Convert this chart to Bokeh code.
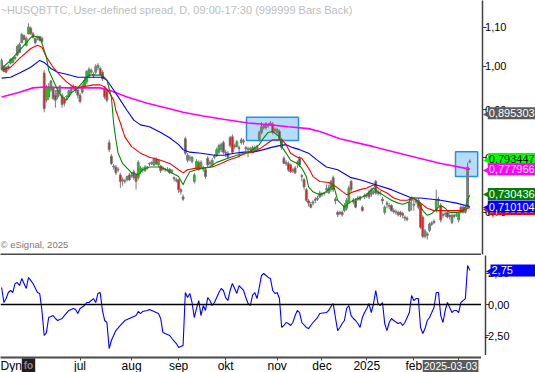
from bokeh.plotting import figure
from bokeh.layouts import column, row
from bokeh.models import (Range1d, FixedTicker, CustomJSTickFormatter, Label, Span,
                          ColumnDataSource)
from bokeh.core.properties import value
from bokeh.embed import file_html
from bokeh.resources import INLINE

# ---------------- data (daily bars, index 0 = first visible bar) ----------------
opens = [
    .993, 1.000, .998, 1.000, 1.008, 1.010, 1.020, 1.028, 1.035, 1.060,
    1.078, 1.053, 1.083, 1.098, 1.083, 1.071, 1.073, 1.076, 1.071, .984,
    .921, .928, .944, .949, .932, .928, .939, .932, .923, .928,
    .930, .939, .951, .951, .944, .932, .939, .953, .963, .977,
    .986, .981, .986, .998, .995, .986, .949, .942, .830, .803,
    .782, .782, .778, .767, .756, .755, .758, .767, .766, .773,
    .767, .762, .773, .777, .775, .780, .788, .789, .786, .797,
    .786, .784, .780, .777, .778, .778, .775, .762, .758, .758,
    .740, .727, .838, .795, .799, .793, .755, .780, .791, .782,
    .780, .777, .799, .789, .786, .801, .805, .811, .816, .830,
    .811, .809, .840, .842, .824, .822, .820, .830, .832, .820,
    .816, .816, .811, .816, .818, .836, .851, .861, .861, .865,
    .869, .869, .857, .851, .853, .836, .799, .791, .789, .786,
    .777, .780, .791, .799, .766, .758, .740, .720, .714, .716,
    .723, .725, .727, .731, .733, .740, .734, .740, .762, .723,
    .700, .700, .700, .703, .707, .718, .755, .721, .721, .725,
    .727, .709, .729, .731, .736, .731, .734, .755, .736, .734,
    .723, .700, .716, .712, .712, .703, .701, .700, .700, .698,
    .692, .690, .703, .721, .712, .718, .721, .714, .692, .660,
    .664, .670, .680, .685, .703, .721, .712, .696, .696, .700,
    .695, .683, .695, .695, .687, .709, .709, .700, .709, .792,
]
highs = [
    1.020, 1.003, 1.000, 1.005, 1.020, 1.023, 1.025, 1.055, 1.060, 1.086,
    1.081, 1.076, 1.111, 1.103, 1.088, 1.073, 1.078, 1.078, 1.076, .991,
    .956, .960, .967, .953, .944, .949, .956, .937, .928, .932,
    .944, .953, .958, .953, .949, .937, .958, .972, .991, .998,
    .995, .986, 1.005, 1.008, 1.000, .991, .953, .946, .836, .807,
    .788, .786, .782, .771, .762, .760, .766, .771, .771, .777,
    .771, .795, .784, .782, .786, .784, .791, .793, .801, .801,
    .797, .786, .784, .780, .782, .780, .778, .764, .762, .760,
    .743, .731, .842, .809, .805, .803, .771, .797, .795, .795,
    .784, .780, .803, .795, .799, .807, .820, .828, .830, .834,
    .816, .813, .844, .847, .828, .836, .824, .840, .838, .824,
    .822, .822, .824, .824, .826, .855, .873, .869, .873, .871,
    .875, .873, .861, .861, .857, .840, .803, .795, .793, .789,
    .780, .784, .795, .803, .769, .762, .743, .723, .718, .721,
    .727, .729, .738, .736, .736, .749, .749, .758, .766, .727,
    .703, .703, .703, .716, .725, .747, .758, .725, .725, .729,
    .729, .712, .733, .734, .740, .743, .740, .758, .740, .738,
    .727, .712, .720, .716, .714, .707, .705, .703, .703, .701,
    .695, .693, .725, .727, .725, .723, .725, .718, .695, .672,
    .667, .683, .685, .688, .740, .727, .716, .700, .701, .703,
    .698, .698, .698, .700, .701, .712, .712, .712, .791, .797,
]
lows = [
    .991, .986, .984, .991, 1.005, 1.008, 1.015, 1.025, 1.033, 1.058,
    1.066, 1.050, 1.081, 1.081, 1.071, 1.055, 1.066, 1.063, 1.058, .894,
    .916, .921, .939, .921, .904, .923, .930, .904, .907, .921,
    .928, .935, .944, .937, .925, .914, .935, .949, .958, .972,
    .981, .972, .981, .991, .977, .965, .923, .916, .811, .786,
    .777, .767, .773, .743, .747, .751, .755, .756, .762, .758,
    .740, .758, .769, .771, .773, .777, .784, .786, .784, .786,
    .782, .771, .775, .773, .773, .769, .769, .755, .753, .734,
    .731, .720, .805, .791, .793, .789, .751, .777, .775, .778,
    .773, .760, .782, .784, .782, .797, .801, .807, .811, .807,
    .801, .799, .820, .807, .818, .820, .801, .826, .826, .811,
    .801, .811, .809, .811, .813, .832, .847, .857, .857, .861,
    .865, .847, .851, .847, .834, .816, .788, .784, .773, .771,
    .771, .769, .780, .782, .755, .740, .718, .710, .707, .712,
    .716, .720, .725, .727, .729, .734, .733, .736, .736, .714,
    .692, .695, .693, .700, .703, .714, .736, .714, .707, .720,
    .720, .701, .723, .725, .723, .727, .731, .731, .729, .729,
    .714, .696, .707, .705, .701, .698, .696, .693, .692, .690,
    .685, .685, .701, .703, .703, .714, .705, .672, .657, .657,
    .655, .667, .677, .680, .700, .710, .683, .690, .692, .690,
    .688, .680, .690, .692, .683, .698, .698, .698, .707, .789,
]
closes = [
    1.015, .988, .986, .995, 1.018, 1.020, 1.023, 1.050, 1.055, 1.081,
    1.068, 1.071, 1.101, 1.083, 1.073, 1.060, 1.076, 1.066, 1.063, .902,
    .949, .949, .965, .925, .921, .944, .953, .911, .914, .930,
    .942, .949, .953, .942, .932, .918, .953, .967, .988, .993,
    .991, .979, 1.000, 1.003, .981, .970, .928, .921, .816, .789,
    .784, .771, .777, .755, .758, .756, .764, .758, .767, .762,
    .755, .791, .780, .778, .782, .782, .789, .791, .797, .788,
    .795, .775, .778, .778, .777, .771, .773, .760, .756, .740,
    .736, .723, .809, .805, .801, .801, .767, .793, .778, .791,
    .778, .764, .786, .791, .795, .803, .816, .824, .826, .811,
    .809, .801, .824, .811, .822, .832, .818, .836, .834, .818,
    .818, .818, .820, .820, .822, .851, .863, .865, .869, .867,
    .871, .851, .855, .857, .838, .820, .789, .789, .777, .773,
    .775, .771, .789, .786, .764, .745, .721, .716, .709, .718,
    .721, .723, .734, .733, .734, .742, .743, .755, .740, .720,
    .696, .698, .696, .712, .721, .743, .740, .718, .709, .723,
    .723, .703, .727, .729, .727, .740, .736, .734, .733, .733,
    .720, .709, .714, .710, .703, .701, .700, .696, .696, .695,
    .690, .688, .718, .723, .714, .720, .709, .675, .660, .669,
    .662, .680, .682, .683, .721, .723, .687, .695, .698, .692,
    .693, .695, .693, .696, .698, .700, .700, .709, .782, .7934,
]

# moving averages (at sample bars)
ma_fast_idx = [0, 4, 8, 13, 14, 17, 18, 20, 21, 23, 25, 27, 29, 31, 34, 37, 39, 43, 45, 47,
               49, 50, 51, 52, 54, 58, 61, 63, 66, 70, 72, 75, 79, 81, 82, 84, 87, 90, 93, 96,
               101, 105, 110, 112, 115, 117, 119, 121, 124, 125, 127, 129, 132, 134, 136, 137, 139, 142, 144, 146,
               148, 149, 150, 153, 155, 157, 160, 163, 166, 168, 170, 174, 177, 179, 182, 183, 186, 188, 190, 192,
               195, 196, 198, 200, 204, 206, 207, 208, 209]
ma_fast_val = [.995, 1.015, 1.040, 1.073, 1.078, 1.073, 1.058, 1.023, .991, .967,
               .944, .928, .921, .937, .949, .967, .979, .979, .979, .967,
               .928, .871, .836, .809, .789, .771, .767, .777, .782, .782,
               .780, .773, .764, .749, .758, .773, .777, .780, .782, .791,
               .799, .805, .811, .816, .826, .840, .851, .853, .842, .822,
               .809, .795, .789, .780, .764, .745, .736, .731, .734, .740,
               .749, .736, .721, .709, .716, .721, .725, .731, .743, .736,
               .731, .721, .716, .714, .718, .727, .718, .703, .695, .698,
               .709, .712, .707, .700, .700, .703, .709, .722, .730]

ma_mid_idx = [0, 4, 8, 13, 16, 18, 20, 23, 26, 29, 32, 35, 38, 41, 44, 46, 48, 50, 51, 53,
              55, 58, 62, 66, 71, 75, 79, 81, 83, 87, 90, 94, 98, 101, 105, 109, 112, 116, 119, 121,
              125, 127, 129, 132, 134, 137, 139, 142, 146, 148, 151, 154, 157, 160, 163, 166, 169, 172, 175, 178,
              181, 184, 187, 190, 193, 196, 199, 203, 205, 207, 208, 209]
ma_mid_val = [.991, .998, 1.020, 1.045, 1.053, 1.048, 1.023, .998, .979, .963,
              .951, .951, .953, .956, .956, .951, .939, .921, .898, .871,
              .842, .822, .809, .801, .795, .789, .777, .771, .777, .780,
              .780, .782, .789, .795, .801, .809, .811, .820, .830, .836,
              .836, .826, .809, .801, .799, .780, .764, .755, .753, .749,
              .740, .731, .736, .740, .743, .749, .740, .734, .725, .721,
              .721, .725, .716, .707, .703, .703, .703, .703, .703, .704,
              .707, .7085]

ma_slow_idx = [0, 4, 8, 13, 17, 19, 22, 25, 29, 34, 37, 43, 45, 47, 50, 53, 56, 59, 62, 66,
               71, 75, 79, 81, 84, 89, 95, 99, 104, 108, 112, 117, 120, 124, 127, 130, 133, 137, 141, 145,
               150, 156, 160, 167, 174, 183, 187, 196, 203, 209]
ma_slow_val = [.972, .974, .984, .998, 1.015, 1.010, .995, .986, .981, .974,
               .974, .974, .974, .967, .944, .921, .898, .877, .867, .863,
               .851, .840, .826, .816, .811, .809, .805, .805, .809, .811,
               .811, .816, .820, .824, .826, .820, .816, .809, .795, .782,
               .777, .762, .758, .749, .740, .725, .725, .721, .716, .710]

ma_200_idx = [0, 8, 14, 19, 29, 44, 49, 56, 65, 75, 81, 90, 99, 110, 120, 128, 137, 142, 151, 166,
              181, 196, 209]
ma_200_val = [.928, .939, .949, .951, .949, .949, .942, .928, .914, .902, .894, .886, .879, .871,
              .867, .863, .859, .853, .838, .822, .805, .789, .778]

# oscillator (lower pane)
osc_idx = [0, 1, 2, 3, 4, 5, 6, 7, 8, 9, 10, 11, 12, 13, 14, 16, 17, 18, 19, 20,
           21, 23, 24, 25, 27, 28, 30, 32, 33, 34, 35, 37, 38, 39, 41, 42, 43, 44, 45, 46,
           47, 48, 49, 51, 53, 55, 58, 60, 61, 62, 63, 65, 66, 68, 70, 71, 72, 73, 75, 76,
           78, 79, 81, 82, 83, 84, 85, 86, 87, 88, 89, 90, 91, 92, 93, 94, 95, 97, 98, 99,
           100, 101, 102, 103, 104, 105, 106, 108, 109, 110, 111, 112, 113, 114, 115, 116, 117, 119, 120, 121,
           122, 123, 124, 125, 126, 127, 128, 129, 130, 131, 132, 133, 134, 136, 137, 138, 139, 141, 142, 145,
           146, 147, 148, 149, 150, 151, 152, 153, 154, 155, 156, 157, 158, 159, 160, 161, 162, 163, 164, 165,
           166, 167, 168, 169, 170, 171, 172, 173, 174, 175, 177, 178, 179, 180, 182, 183, 184, 185, 186, 187,
           188, 189, 190, 191, 192, 193, 194, 195, 196, 197, 198, 199, 200, 201, 202, 203, 204, 205, 206, 207,
           208, 209]
osc_val = [1.37, 0.16, 0.48, 0.97, 1.13, 0.97, 1.69, 1.77, 1.53, 2.10, 1.69, 1.29, 2.18, 1.94, 1.69, 0.97, 0.89, -0.50, -2.50, -2.26,
           -1.05, -0.89, -1.13, -1.29, -1.13, -0.89, -0.48, -0.32, -0.40, -0.73, -0.32, -0.08, 0.16, 0.16, 0.48, 0.16, 0.89, 0.97, -0.48, -1.29,
           -1.45, -3.55, -2.90, -2.10, -1.69, -1.29, -1.05, -0.89, -0.56, -0.73, -0.56, -0.48, -0.40, -0.56, -0.73, -1.13, -2.26, -2.34, -2.50, -2.74,
           -3.15, -3.47, -3.31, 0.97, 0.56, 0.89, 0.16, -1.05, -0.32, 0.32, -0.89, -0.08, -0.48, 0.56, 0.32, -0.08, 0.16, 0.97, 1.29, 1.13,
           0.56, 0.32, 1.13, 1.69, 1.29, 0.89, 1.53, 1.13, 0.56, 0.08, -0.08, 0.73, 0.97, 0.48, 1.37, 2.34, 2.50, 2.18, 2.10, 1.13,
           0.89, 0.97, 0.48, -1.85, -1.69, -1.45, -1.53, -1.69, -1.45, -0.89, -0.48, -0.65, -1.45, -1.85, -1.94, -1.69, -1.45, -1.05, -0.73, -0.65,
           -0.48, -0.16, 0.08, -1.05, -2.10, -1.85, -1.53, -1.29, -0.32, -0.08, -0.89, -1.13, -1.29, -1.53, -1.85, -1.05, -0.65, -0.32, 0.08, -0.65,
           0.08, 1.13, 0.08, -0.08, 0.16, -1.53, -2.10, -1.45, -1.13, -1.29, -1.53, -1.45, -1.69, -1.45, -0.65, 0.73, 0.32, 0.48, 0.48, -1.85,
           -2.34, -1.94, -1.29, -1.05, -0.65, -0.24, 0.97, 0.97, -0.89, -1.45, -0.48, 0.16, -0.24, -0.65, -0.48, -0.48, -0.65, 0.16, 0.32, 0.48,
           3.15, 2.75]

# highlighted zones
box_left = [109.3, 202.6]
box_right = [132.5, 212.5]
box_top = [0.883, 0.812]
box_bottom = [0.8345, 0.764]

# axes
month_idx = [35, 58, 79, 100, 123, 143, 163, 184, 204]
month_labels = ["jul", "aug", "sep", "okt", "nov", "dec", "2025", "feb", ""]
price_ticks = [0.7, 0.8, 0.9, 1.0, 1.1]
osc_ticks = [-2.5, 0.0, 2.5]
date_tag_text = "2025-03-03"
date_tag_idx = 200.4

# value tags on the price scale
tag_values = [0.895303, 0.793447, 0.777966, 0.730436, 0.7085, 0.710104]
tag_texts = ["0,895303", "0,793447", "0,777966", "0,730436", "0,708500", "0,710104"]
tag_bg = ["#5a5a5a", "#00ff00", "#ff00ff", "#008000", "#ff0000", "#0000ff"]
tag_fg = ["white", "black", "white", "white", "white", "white"]
tag_nudge = [1.5, -2, 0, -1, 1.5, 0]
osc_tag_value = 2.75
osc_tag_text = "2,75"

# ---------------- layout ----------------
FONT = "Liberation Sans"
UP = "#00d800"
DOWN = "#ff0000"
WICK = "#787878"
AXC = "#404040"
TAG_PAD = dict(left=1, right=6, top=2, bottom=2)


def base_fig(**kw):
    p = figure(toolbar_location=None, output_backend="svg", **kw)
    p.grid.visible = False
    p.outline_line_color = None
    p.background_fill_color = "white"
    p.border_fill_color = "white"
    p.min_border_left = 0
    p.min_border_right = 0
    p.min_border_top = 0
    p.min_border_bottom = 0
    return p


def style_value_axis(ax, ticks):
    ax.ticker = FixedTicker(ticks=ticks)
    ax.formatter = CustomJSTickFormatter(code="return tick.toFixed(2).replace('.', ',');")
    ax.major_tick_in = 4
    ax.major_tick_out = 0
    ax.minor_tick_in = 0
    ax.minor_tick_out = 0
    ax.axis_line_color = AXC
    ax.axis_line_width = 1.5
    ax.major_tick_line_color = AXC
    ax.major_label_text_font = FONT
    ax.major_label_text_font_size = "11px"
    ax.major_label_text_color = "black"
    ax.major_label_standoff = -24


def add_tag(fig, y, text, bg, fg, dy, pad):
    s = ColumnDataSource(dict(y=[y], text=[text], arrow=["\u25c0"], dy=[dy],
                              ax=[0.3], tx=[5.3]))
    ra = fig.text(x="ax", y="y", text="arrow", source=s, y_offset="dy", text_color=bg,
                  text_font=value("DejaVu Sans"), text_font_size=value("10px"),
                  text_baseline="middle", text_align="left")
    rt = fig.text(x="tx", y="y", text="text", source=s, y_offset="dy", text_color=fg,
                  background_fill_color=bg, text_font=value(FONT),
                  text_font_size=value("11px"), text_baseline="middle", text_align="left",
                  padding=pad)
    ra.level = "overlay"
    rt.level = "overlay"


n = len(opens)
src = ColumnDataSource(dict(
    x=list(range(n)), o=opens, h=highs, l=lows, c=closes,
    top=[max(a, b) for a, b in zip(opens, closes)],
    bot=[min(a, b) for a, b in zip(opens, closes)],
    col=[UP if b >= a else DOWN for a, b in zip(opens, closes)],
))

xr = Range1d(-0.5, 214.2)
yr1 = Range1d(0.6315, 1.175)
yr2 = Range1d(-4.11, 3.95)

# ---- price pane ----
p1 = base_fig(width=481, height=255, x_range=xr, y_range=yr1, y_axis_type="log",
              y_axis_location=None)
p1.min_border_bottom = 1
p1.quad(left=box_left, right=box_right, top=box_top, bottom=box_bottom,
        fill_color="#b5dcf8", line_color="#2a8ee6", line_width=1.5)
p1.segment(x0="x", y0="h", x1="x", y1="l", source=src, line_color=WICK, line_width=1)
p1.vbar(x="x", width=0.8, top="top", bottom="bot", source=src,
        fill_color="col", line_color=WICK, line_width=1)
p1.line(ma_200_idx, ma_200_val, line_color="#ff00ff", line_width=1.6)
p1.line(ma_slow_idx, ma_slow_val, line_color="#0000ee", line_width=1.1)
p1.line(ma_mid_idx, ma_mid_val, line_color="#ff0000", line_width=1.1)
p1.line(ma_fast_idx, ma_fast_val, line_color="#008a00", line_width=1.1)

xa1 = p1.xaxis[0]
xa1.ticker = FixedTicker(ticks=[])
xa1.major_tick_out = 0
xa1.major_tick_in = 0
xa1.minor_tick_out = 0
xa1.minor_tick_in = 0
xa1.major_label_standoff = 0
xa1.axis_line_color = "#4a4a4a"
xa1.axis_line_width = 2

p1.add_layout(Label(x=0, y=251, x_units="screen", y_units="screen",
                    text="~HUSQBTTC, User-defined spread, D, 09:00-17:30 (999999 Bars Back)",
                    text_font=FONT, text_font_size="11px", text_color="#bdbdbd",
                    text_baseline="top", text_align="left"))
p1.add_layout(Label(x=0, y=5, x_units="screen", y_units="screen",
                    text="\u00a9 eSignal, 2025", text_font=FONT, text_font_size="9.5px",
                    text_color="#7a7a7a", text_baseline="bottom", text_align="left"))

# ---- price scale strip with value tags ----
pt1 = base_fig(width=54, height=255, x_range=Range1d(0, 53), y_range=yr1, y_axis_type="log",
               y_axis_location="left", x_axis_location=None)
pt1.min_border_left = 1
pt1.min_border_bottom = 1
style_value_axis(pt1.yaxis[0], price_ticks)
for v, t, bg, fg, dy in zip(tag_values, tag_texts, tag_bg, tag_fg, tag_nudge):
    add_tag(pt1, v, t, bg, fg, dy, TAG_PAD)

# ---- oscillator pane ----
p2 = base_fig(width=481, height=100, x_range=xr, y_range=yr2,
              x_axis_location=None, y_axis_location=None)
p2.add_layout(Span(location=0, dimension="width", line_color="black", line_width=1.5))
p2.line(osc_idx, osc_val, line_color="#0000ff", line_width=1.1)

pt2 = base_fig(width=54, height=100, x_range=Range1d(0, 53), y_range=yr2,
               y_axis_location="left", x_axis_location=None)
pt2.min_border_left = 1
style_value_axis(pt2.yaxis[0], osc_ticks)
add_tag(pt2, osc_tag_value, osc_tag_text, "#0000ff", "white", 0,
        dict(left=1, right=30, top=2, bottom=2))

# ---- time axis strip ----
p3 = base_fig(width=481, height=17, x_range=xr, y_range=Range1d(0, 16),
              x_axis_location="above", y_axis_location=None)
p3.min_border_top = 1
xa3 = p3.xaxis[0]
xa3.ticker = FixedTicker(ticks=month_idx)
xa3.formatter = CustomJSTickFormatter(args=dict(pos=month_idx, lab=month_labels),
                                      code="const k = pos.indexOf(tick); return k >= 0 ? lab[k] : '';")
xa3.major_tick_in = 3
xa3.major_tick_out = 0
xa3.minor_tick_in = 0
xa3.minor_tick_out = 0
xa3.axis_line_color = "#4a4a4a"
xa3.axis_line_width = 2
xa3.major_tick_line_color = "#4a4a4a"
xa3.major_label_text_font = FONT
xa3.major_label_text_font_size = "12px"
xa3.major_label_text_color = "black"
xa3.major_label_standoff = -15

r = p3.text(x=[date_tag_idx], y=[7], text=[date_tag_text], text_color="white",
            background_fill_color="#5a5a5a", text_font=value(FONT),
            text_font_size=value("10.5px"), text_baseline="middle", text_align="center",
            padding=dict(left=1, right=1, top=2, bottom=2))
r.level = "overlay"
r = p3.text(x=[-0.5], y=[7], text=["Dyn"], text_color="black", text_font=value(FONT),
            text_font_size=value("12px"), text_baseline="middle", text_align="left")
r.level = "overlay"
r = p3.text(x=[12], y=[7], text=["fo"], text_color="#8a8a8a", background_fill_color="#1e1e1e",
            text_font=value(FONT), text_font_size=value("10px"), text_font_style="bold",
            text_baseline="middle", text_align="center",
            padding=dict(left=2, right=2, top=2, bottom=2))
r.level = "overlay"

layout = column(row(p1, pt1), row(p2, pt2), p3)
open("out.html", "w").write(file_html(layout, INLINE))
